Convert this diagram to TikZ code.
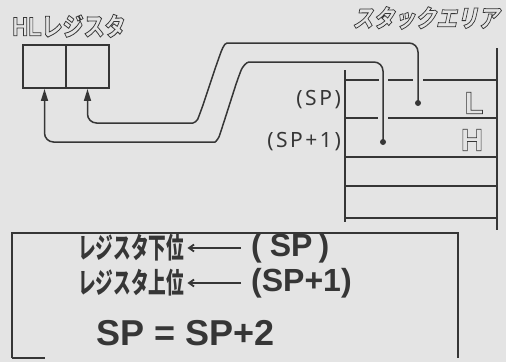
\documentclass[tikz,border=0pt]{standalone}
\usepackage{fontspec}
\usepackage{graphicx}
\setmainfont{Liberation Sans}
\newfontfamily\cjk{Noto Sans CJK JP}
\newfontfamily\cjkslant[FakeSlant=0.25]{Noto Sans CJK JP}
\newfontfamily\hand[LetterSpace=12]{Noto Sans}
\usetikzlibrary{arrows.meta}
\definecolor{bg}{HTML}{E4E4E4}
\definecolor{ink}{HTML}{363636}
\newcommand\olt[1]{\special{pdf:literal direct 1 Tr}#1\special{pdf:literal direct 0 Tr}}
\newcommand\fs[1]{\fontsize{#1}{#1}\selectfont}
\begin{document}
\begin{tikzpicture}[x=1pt,y=-1pt,
  wire/.style={draw=ink, line width=1.5pt, rounded corners=9pt},
  regbox/.style={draw=ink, line width=1.9pt, minimum width=43pt, minimum height=43pt, inner sep=0pt},
  stk/.style={draw=ink, line width=1.6pt},
  uptip/.style={-{Triangle[length=12pt,width=7pt]}},
  txtarrow/.style={draw=ink, line width=1.8pt, -{Straight Barb[length=5pt,width=7pt]}},
  dot/.style={circle, fill=ink, minimum size=6pt, inner sep=0pt},
  lbl/.style={text=ink, inner sep=0pt},
  outl/.style={color=ink, inner sep=0pt, line width=0.7pt}]
\fill[bg] (0,0) rectangle (506,362);
\useasboundingbox (0,0) rectangle (506,362);

% titles
\node[outl, anchor=west] (hltitle) at (12,26) {\scalebox{1}[1.2]{\fs{22}\olt{\bfseries HL}\cjk\bfseries\fs{21}\olt{レジスタ}}};
\node[outl, anchor=east] (stacktitle) at (499,18) {\scalebox{0.95}[1.1]{\cjkslant\bfseries\fs{22}\olt{スタックエリア}}};

% registers
\node[regbox] (hreg) at (44.5,66.5) {};
\node[regbox] (lreg) at (87.5,66.5) {};

% stack area
\draw[stk] (345,70) -- (345,222);
\draw[stk] (497,48) -- (497,230);
\draw[stk] (345,80) -- (379,80);
\draw[stk] (388,80) -- (413,80);
\draw[stk] (423,80) -- (497,80);
\draw[stk] (345,118) -- (378,118);
\draw[stk] (388,118) -- (497,118);
\draw[stk] (345,157) -- (497,157);
\draw[stk] (345,186) -- (497,186);
\draw[stk] (345,218) -- (497,218);

\node[outl] (lcell) at (474,103) {\fs{31}\bfseries\olt{L}};
\node[outl] (hcell) at (472,140) {\fs{31}\bfseries\olt{H}};

\node[lbl, anchor=east] (splbl) at (341,100) {\hand\fs{21}(SP)};
\node[lbl, anchor=east] (sp1lbl) at (341,142) {\hand\fs{21}(SP+1)};

% dots
\node[dot] (ldot) at (418,103) {};
\node[dot] (hdot) at (383,142) {};

% wires
\draw[wire, uptip] (ldot.center) -- (418,43) -- (236,43)
  .. controls (224,43) and (221,52) .. (217,63) -- (201,111)
  .. controls (197,121) and (194,123) .. (184,123) -- (87.5,123) -- (lreg.south);
\draw[wire, uptip] (hdot.center) -- (383,62) -- (258,62)
  .. controls (246,62) and (242,68) .. (238,78) -- (222,128)
  .. controls (219,137) and (216,142) .. (206,142) -- (44.5,142) -- (hreg.south);

% bottom box
\draw[draw=ink, line width=1.2pt] (12,358) -- (12,233) -- (458,233) -- (458,358);
\draw[draw=ink, line width=1.2pt] (12,358) -- (45,358);

\node[lbl, anchor=west] (jp1) at (78,248) {\scalebox{0.68}[1.1]{\cjk\bfseries\fs{26}レジスタ下位}};
\node[lbl, anchor=west] (sp1) at (251,248) {\bfseries\fs{32}(\hspace{8pt}SP\hspace{6pt})};
\node[lbl, anchor=west] (jp2) at (78,283) {\scalebox{0.68}[1.1]{\cjk\bfseries\fs{26}レジスタ上位}};
\node[lbl, anchor=west] (sp2) at (251,283) {\bfseries\fs{32}(SP+1)};
\node[lbl, anchor=west] (eq) at (96,333) {\bfseries\fs{36}SP = SP+2};

\draw[txtarrow] (sp1.west) ++(-10,0) -- ([xshift=3pt]jp1.east);
\draw[txtarrow] (sp2.west) ++(-10,0) -- ([xshift=3pt]jp2.east);
\end{tikzpicture}
\end{document}
